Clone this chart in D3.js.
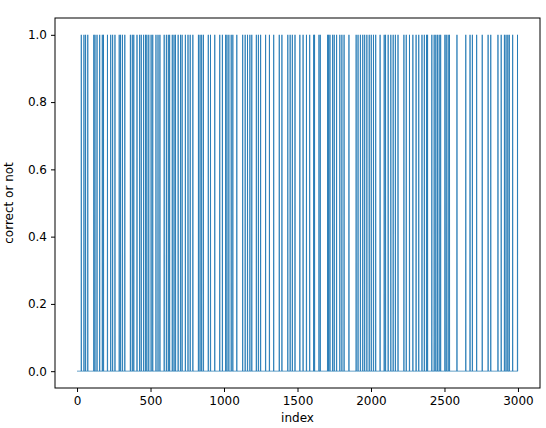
<!DOCTYPE html>
<html><head><meta charset="utf-8">
<script src="https://cdn.jsdelivr.net/npm/d3@7"></script>
<style>body{margin:0;background:#fff}text{font-family:"DejaVu Sans",sans-serif}</style>
</head><body><div id="chart"></div>
<script>
// indices where the prediction was correct (value 1)
var correctIdx = [29,47,58,73,114,122,136,154,172,180,207,229,242,258,287,296,309,325,363,376,386,408,426,437,453,466,475,488,504,515,537,551,564,593,608,621,630,648,660,670,688,704,715,737,755,770,788,826,837,848,860,893,908,937,971,989,1011,1020,1033,1049,1060,1087,1127,1144,1160,1176,1189,1220,1234,1249,1283,1309,1338,1376,1394,1434,1450,1465,1483,1516,1538,1561,1583,1610,1616,1646,1655,1705,1712,1721,1739,1750,1766,1788,1802,1817,1850,1899,1912,1928,1944,1957,1972,1988,2002,2017,2032,2062,2090,2099,2117,2135,2151,2166,2184,2224,2240,2262,2285,2307,2325,2347,2363,2378,2385,2414,2430,2441,2452,2464,2474,2503,2512,2525,2534,2585,2645,2674,2690,2719,2757,2797,2815,2864,2886,2908,2919,2931,2941,2964,2997];
var nPoints = 3000;
var xTicks = [0,500,1000,1500,2000,2500,3000];
var yTicks = [0.0,0.2,0.4,0.6,0.8,1.0];

var hits = new Set(correctIdx);
var series = d3.range(nPoints).map(function(i){ return hits.has(i) ? 1 : 0; });

var width = 546, height = 428;
var pLeft = 55, pRight = 540, pTop = 18, pBottom = 388;
var svg = d3.select("#chart").append("svg").attr("width", width).attr("height", height);

var x = d3.scaleLinear().domain([-150, 3150]).range([pLeft, pRight]);
var y = d3.scaleLinear().domain([-0.05, 1.05]).range([pBottom, pTop]);

var line = d3.line().x(function(d, i){ return x(i); }).y(function(d){ return y(d); });
svg.append("path").datum(series)
    .attr("d", line)
    .attr("fill", "none")
    .attr("stroke", "#1f77b4")
    .attr("stroke-width", 0.8);

var xAxis = d3.axisBottom(x).tickValues(xTicks).tickFormat(d3.format("d")).tickSize(4).tickPadding(4);
var yAxis = d3.axisLeft(y).tickValues(yTicks).tickFormat(d3.format(".1f")).tickSize(4).tickPadding(4);
svg.append("g").attr("transform", "translate(0," + pBottom + ")").call(xAxis);
svg.append("g").attr("transform", "translate(" + pLeft + ",0)").call(yAxis);
svg.selectAll(".domain").remove();
svg.selectAll(".tick text").attr("font-size", 12).attr("fill", "#000").style("font-family", "DejaVu Sans");
svg.selectAll(".tick line").attr("stroke", "#000");

svg.append("rect").attr("x", pLeft).attr("y", pTop).attr("width", pRight - pLeft).attr("height", pBottom - pTop)
    .attr("fill", "none").attr("stroke", "#000").attr("stroke-width", 1);

svg.append("text").attr("x", (pLeft + pRight) / 2).attr("y", 422).attr("text-anchor", "middle")
    .attr("font-size", 12).text("index");
svg.append("text").attr("transform", "translate(13," + (pTop + pBottom) / 2 + ") rotate(-90)")
    .attr("text-anchor", "middle").attr("font-size", 12).text("correct or not");
</script></body></html>
